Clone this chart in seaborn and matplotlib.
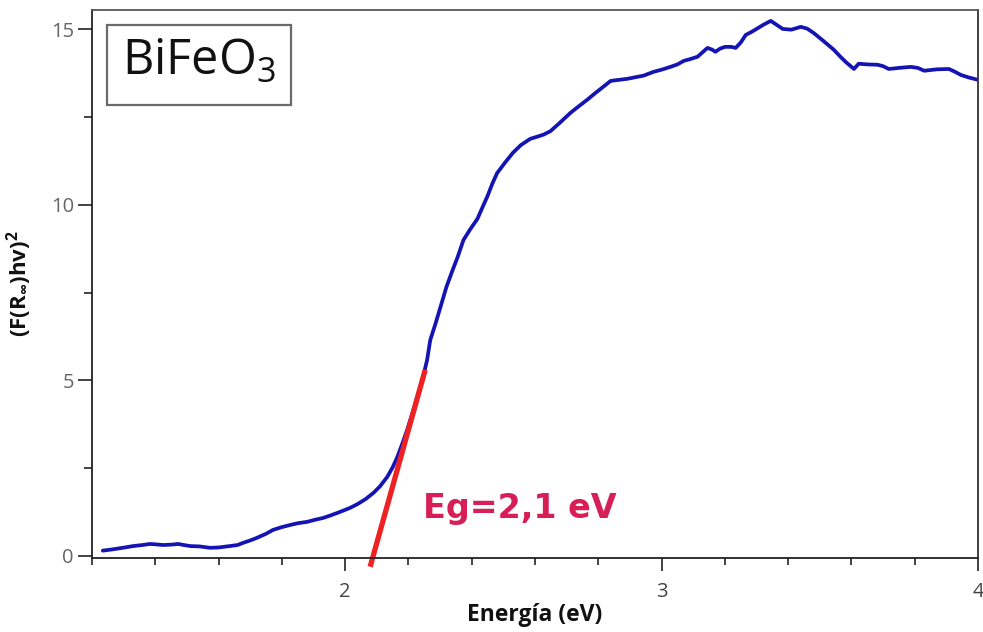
import numpy as np
import pandas as pd
import matplotlib
matplotlib.use("Agg")
import matplotlib.pyplot as plt
from matplotlib.patches import Rectangle
from matplotlib.ticker import MultipleLocator
import seaborn as sns

# ---- data ----
energy = [1.234, 1.26, 1.297, 1.33, 1.36, 1.383, 1.40, 1.424, 1.45, 1.472, 1.49, 1.51,
          1.54, 1.573, 1.60, 1.636, 1.66, 1.677, 1.70, 1.72, 1.75, 1.772, 1.80, 1.826,
          1.85, 1.88, 1.905, 1.93, 1.953, 1.98, 2.016, 2.038, 2.065, 2.09, 2.11, 2.133,
          2.15, 2.165, 2.18, 2.196, 2.212, 2.228, 2.245, 2.259, 2.269, 2.285, 2.30, 2.32,
          2.34, 2.355, 2.374, 2.395, 2.418, 2.435, 2.449, 2.465, 2.48, 2.505, 2.53, 2.555,
          2.585, 2.61, 2.627, 2.649, 2.68, 2.712, 2.74, 2.766, 2.79, 2.807, 2.839, 2.865,
          2.892, 2.92, 2.943, 2.975, 3.0, 3.028, 3.05, 3.07, 3.09, 3.114, 3.13, 3.145,
          3.16, 3.17, 3.185, 3.20, 3.22, 3.234, 3.25, 3.266, 3.285, 3.30, 3.32, 3.345,
          3.36, 3.383, 3.41, 3.44, 3.46, 3.48, 3.51, 3.544, 3.565, 3.582, 3.608, 3.623,
          3.65, 3.683, 3.70, 3.718, 3.75, 3.788, 3.81, 3.83, 3.87, 3.908, 3.925, 3.946,
          3.97, 4.0]
signal = [0.15, 0.18, 0.23, 0.28, 0.31, 0.34, 0.33, 0.31, 0.32, 0.34, 0.31, 0.28,
          0.27, 0.23, 0.24, 0.28, 0.31, 0.37, 0.44, 0.51, 0.63, 0.74, 0.82, 0.88,
          0.93, 0.97, 1.03, 1.08, 1.15, 1.24, 1.37, 1.47, 1.62, 1.80, 1.98, 2.25,
          2.52, 2.82, 3.18, 3.59, 4.05, 4.53, 5.05, 5.58, 6.15, 6.6, 7.05, 7.66,
          8.15, 8.5, 9.0, 9.3, 9.6, 9.95, 10.23, 10.6, 10.9, 11.2, 11.48, 11.7,
          11.88, 11.95, 12.0, 12.1, 12.35, 12.62, 12.82, 13.0, 13.18, 13.3, 13.53, 13.56,
          13.59, 13.64, 13.68, 13.79, 13.85, 13.93, 14.0, 14.1, 14.15, 14.22, 14.35, 14.47,
          14.42, 14.36, 14.45, 14.5, 14.5, 14.47, 14.62, 14.84, 14.93, 15.01, 15.12, 15.24,
          15.15, 15.01, 14.99, 15.07, 15.02, 14.9, 14.68, 14.42, 14.22, 14.07, 13.87, 14.02,
          14.0, 13.99, 13.95, 13.87, 13.9, 13.93, 13.9, 13.82, 13.86, 13.87, 13.8, 13.70,
          13.63, 13.56]

tangent_x = [2.079, 2.253]
tangent_y = [-0.31, 5.3]

x_major = [2, 3, 4]
y_major = [0, 5, 10, 15]

sample_label = "BiFeO$_3$"
eg_label = "Eg=2,1 eV"
xlabel = "Energía (eV)"
ylabel = r"(F(R$_{\infty}$)hv)$^2$"

# ---- styling ----
sns.set_style("ticks")
plt.rcParams["font.family"] = ["Open Sans", "DejaVu Sans"]
plt.rcParams["mathtext.default"] = "regular"

df = pd.DataFrame({"E": energy, "F": signal})

fig = plt.figure(figsize=(9.83, 6.32), dpi=100)
ax = fig.add_axes([92 / 983, 74 / 632, 886 / 983, 548 / 632])

sns.lineplot(data=df, x="E", y="F", ax=ax, color="#1414b4", linewidth=2.7,
             sort=False, estimator=None)
sns.lineplot(x=tangent_x, y=tangent_y, ax=ax, color="#ee2222", linewidth=3.8,
             estimator=None, sort=False)
for ln in ax.lines[-1:]:
    ln.set_clip_on(False)
    ln.set_solid_capstyle("butt")

ax.set_xlim(1.2, 4.0)
ax.set_ylim(-0.06, 15.55)
ax.set_xticks(x_major)
ax.set_yticks(y_major)
ax.xaxis.set_minor_locator(MultipleLocator(0.2))
ax.yaxis.set_minor_locator(MultipleLocator(2.5))

ax.tick_params(axis="x", which="major", length=9, width=1.2, color="#222222",
               labelsize=14.5, labelcolor="#444444", pad=8)
ax.tick_params(axis="x", which="minor", length=5, width=1.2, color="#222222")
ax.tick_params(axis="y", which="major", length=10, width=1.2, color="#222222",
               labelsize=14.5, labelcolor="#666666", pad=3)
ax.tick_params(axis="y", which="minor", length=6, width=1.2, color="#222222")

for side in ["left", "bottom", "right", "top"]:
    ax.spines[side].set_linewidth(1.3)
    ax.spines[side].set_color("#222222")
ax.spines["top"].set_color("#555555")
ax.spines["right"].set_color("#333333")

ax.set_xlabel(xlabel, fontsize=16.5, fontweight="bold", color="#111111", labelpad=1)
ax.set_ylabel(ylabel, fontsize=16, fontweight="bold", color="#111111", labelpad=12)

# sample label box
box_x0 = (107 - 92) / 886
box_y0 = (558 - 105) / 548
box_w = (291 - 107) / 886
box_h = (105 - 25) / 548
ax.add_patch(Rectangle((box_x0, box_y0), box_w, box_h, transform=ax.transAxes,
                       facecolor="white", edgecolor="#6a6a6a", linewidth=1.6, zorder=5))
ax.text(box_x0 + box_w / 2, box_y0 + box_h / 2 + 0.005, sample_label,
        transform=ax.transAxes, ha="center", va="center", fontsize=35,
        color="#111111", zorder=6)

ax.text(2.245, 1.35, eg_label, fontsize=24, fontweight="bold", color="#d81e57",
        ha="left", va="center", family=["DejaVu Sans"])

fig.savefig("out.png", dpi=100)
